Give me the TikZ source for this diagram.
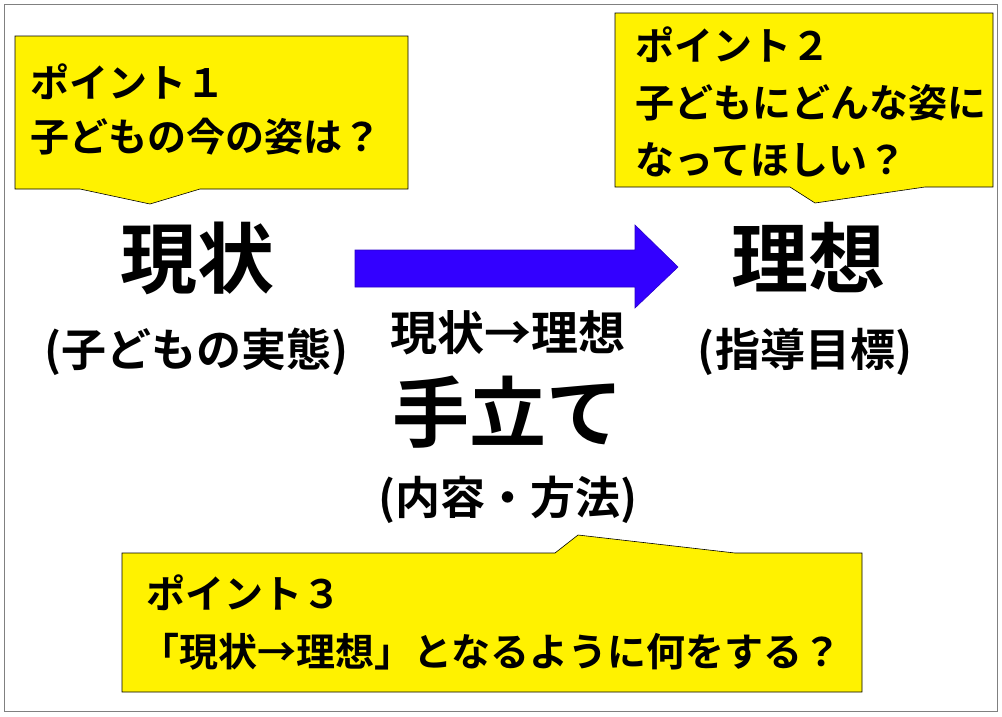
\documentclass[tikz,border=0pt]{standalone}
\usepackage{fontspec}
\setmainfont{Noto Sans CJK JP}[BoldFont={Noto Sans CJK JP Bold}]
\begin{document}
\begin{tikzpicture}[x=1pt,y=-1pt,
  callout/.style={draw=black,fill=yellow,line width=0.6pt},
  ct/.style={anchor=west,inner sep=0pt,font=\bfseries\fontsize{39}{39}\selectfont},
  big/.style={inner sep=0pt,font=\bfseries\fontsize{77}{77}\selectfont},
  mid/.style={inner sep=0pt,font=\bfseries\fontsize{45}{45}\selectfont}]
\useasboundingbox (0,0) rectangle (1002,716);
\draw[gray,line width=0.6pt] (4,4) rectangle (997,711);
% callouts
\draw[callout] (15,36) -- (408,36) -- (408,189) -- (200,189) -- (150,204) -- (80,189) -- (15,189) -- cycle;
\draw[callout] (615,13) -- (993,13) -- (993,187) -- (925,187) -- (815,203) -- (790,187) -- (615,187) -- cycle;
\draw[callout] (122,553) -- (555,553) -- (578,535) -- (735,553) -- (862,553) -- (862,692) -- (122,692) -- cycle;
\node[ct] (c1a) at (30,82) {ポイント１};
\node[ct] (c1b) at (30,137) {子どもの今の姿は？};
\node[ct] (c2a) at (635,45) {ポイント２};
\node[ct] (c2b) at (635,103) {子どもにどんな姿に};
\node[ct] (c2c) at (635,160) {なってほしい？};
\node[ct] (c3a) at (146,593) {ポイント３};
\node[ct] (c3b) at (140,652) {「現状→理想」となるように何をする？};
% arrow
\draw[fill={rgb,255:red,51;green,0;blue,255},draw={rgb,255:red,40;green,0;blue,200},line width=0.6pt]
  (355,250) -- (635,250) -- (635,225) -- (678,267) -- (635,308) -- (635,287) -- (355,287) -- cycle;
% main texts
\node[big] (gen) at (197,258) {現状};
\node[big] (ri) at (808,258) {理想};
\node[mid] (genS) at (197,352) {(子どもの実態)};
\node[mid] (riS) at (805,352) {(指導目標)};
\node[mid,font=\bfseries\fontsize{47}{47}\selectfont] (gr) at (508,333) {現状→理想};
\node[big] (te) at (508,412) {手立て};
\node[mid] (teS) at (508,500) {(内容・方法)};
\end{tikzpicture}
\end{document}
